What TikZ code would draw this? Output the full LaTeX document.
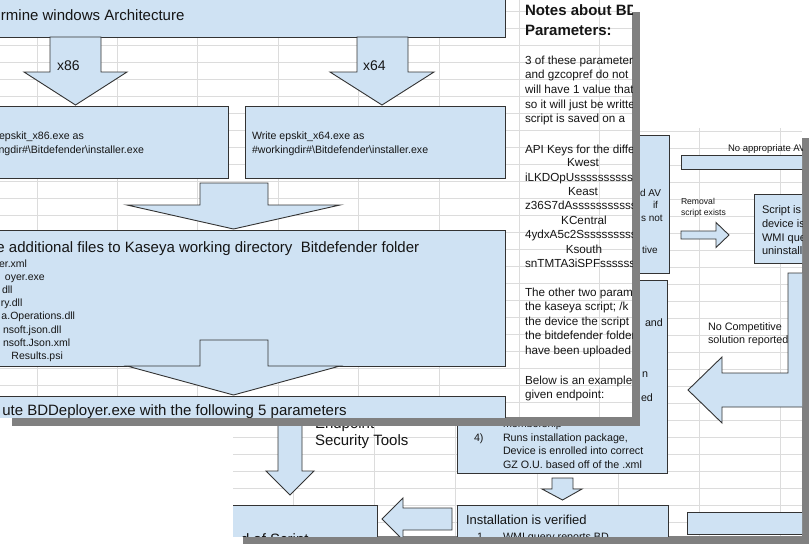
\documentclass[tikz,border=0pt]{standalone}
\usepackage{fontspec}
\setmainfont{Liberation Sans}
\definecolor{boxblue}{HTML}{CFE2F3}
\definecolor{edgegray}{HTML}{333333}
\definecolor{gridgray}{HTML}{DCDCDC}
\definecolor{shadowgray}{HTML}{808080}
\definecolor{ink}{HTML}{151515}
\newcommand\fsz[1]{\fontsize{#1}{#1}\selectfont}
\begin{document}
\begin{tikzpicture}[x=1pt,y=-1pt,
  box/.style={fill=boxblue,draw=edgegray,line width=0.9},
  blockarrow/.style={fill=boxblue,draw=edgegray,line width=0.9,line join=miter},
  gridline/.style={draw=gridgray,line width=0.7},
  txt/.style={anchor=base west,inner sep=0,outer sep=0,text=ink},
  ctxt/.style={anchor=base,inner sep=0,outer sep=0,text=ink}]
\useasboundingbox (0,0) rectangle (812,544);
\fill[white] (0,0) rectangle (812,544);

% ---------- back page (B) ----------
\fill[shadowgray] (243,138) rectangle (809,550);
\begin{scope}
\clip (233,128) rectangle (802,536);
\fill[white] (233,128) rectangle (802,536);
\foreach \gx in {293,374.3,455.6,536.9,618.2,699.5,780.8} \draw[gridline] (\gx,128) -- (\gx,536);
\foreach \k in {0,...,23} \draw[gridline] (233,131+17*\k) -- (802,131+17*\k);
% boxes
\draw[box] (560,135) rectangle (669,273);
\draw[box] (457,280) rectangle (667,473);
\draw[box] (457,505) rectangle (668,570);
\draw[box] (200,505) rectangle (377,570);
\draw[box] (687,512) rectangle (850,534.5);
\draw[box] (681,155) rectangle (850,169);
\draw[box] (754,194) rectangle (850,263);
% block arrows
\draw[blockarrow] (552,478) -- (573,478) -- (573,489) -- (582,489) -- (562.5,500) -- (542,489) -- (552,489) -- cycle;
\draw[blockarrow] (452,508) -- (403,508) -- (403,498) -- (382,519) -- (403,540) -- (403,530) -- (452,530) -- cycle;
\draw[blockarrow] (278,400) -- (278,471) -- (266,471) -- (290,495) -- (314,471) -- (302,471) -- (302,400) -- cycle;
\draw[blockarrow] (681,231) -- (716,231) -- (716,222.5) -- (729,235) -- (716,247.5) -- (716,239) -- (681,239) -- cycle;
\draw[blockarrow] (788,273) -- (840,273) -- (840,407) -- (722,407) -- (722,423) -- (688,390) -- (722,357) -- (722,373) -- (788,373) -- cycle;
% texts
\node[txt,font=\fsz{10}] (bav) at (640,196.5) {d AV};
\node[txt,font=\fsz{10}] (bif) at (653,208.5) {if};
\node[txt,font=\fsz{10}] (bnot) at (641,221.5) {s not};
\node[txt,font=\fsz{10}] (btive) at (642,253.5) {tive};
\node[txt,font=\fsz{10.7}] (band) at (645,326) {and};
\node[txt,font=\fsz{10.7}] (bn) at (642,377) {n};
\node[txt,font=\fsz{10.7}] (bed) at (641,401) {ed};
\node[txt,font=\fsz{10.7}] (bmem) at (503,427.5) {membership};
\node[txt,font=\fsz{10.7}] (bfour) at (474,441) {4)};
\node[txt,font=\fsz{10.7}] (bruns) at (503,441) {Runs installation package,};
\node[txt,font=\fsz{10.7}] (bdev) at (503,454.5) {Device is enrolled into correct};
\node[txt,font=\fsz{10.7}] (bgz) at (503,468) {GZ O.U. based off of the .xml};
\node[txt,font=\fsz{15}] (bend) at (315,428) {Endpoint};
\node[txt,font=\fsz{15}] (bsec) at (315,445.5) {Security Tools};
\node[txt,font=\fsz{13}] (binst) at (466,524.5) {Installation is verified};
\node[txt,font=\fsz{10.7}] (bone) at (477,540.5) {1};
\node[txt,font=\fsz{10.7}] (bwmi) at (503,540.5) {WMI query reports BD};
\node[txt,font=\fsz{15}] (bscr) at (241,544.5) {d of Script};
\node[txt,font=\fsz{10.8}] (bnoc) at (708,330) {No Competitive};
\node[txt,font=\fsz{10.8}] (bsol) at (708,343) {solution reported};
\node[txt,font=\fsz{11}] (bs1) at (762,213) {Script is};
\node[txt,font=\fsz{11}] (bs2) at (762,227) {device is};
\node[txt,font=\fsz{11}] (bs3) at (762,241) {WMI query};
\node[txt,font=\fsz{11}] (bs4) at (762,254.5) {uninstall};
\node[txt,font=\fsz{8.6}] (brem) at (681,204) {Removal};
\node[txt,font=\fsz{8.6}] (bexi) at (681,215) {script exists};
\node[txt,font=\fsz{9.5}] (bnoa) at (728,151) {No appropriate AV};
\end{scope}

% ---------- front page (A) ----------
\fill[shadowgray] (12,12) rectangle (640,426);
\begin{scope}
\clip (-10,-10) rectangle (632,417);
\fill[white] (-10,-10) rectangle (632,417);
\foreach \gx in {37,117.4,197.8,278.2,358.6,439,519.4,599.8} \draw[gridline] (\gx,-10) -- (\gx,417);
\foreach \k in {0,...,23} \draw[gridline] (-10,11+17*\k) -- (632,11+17*\k);
% boxes and arrows
\draw[box] (-5,-5) rectangle (505,37);
\draw[blockarrow] (50,37) -- (50,72) -- (24,72) -- (75.5,105) -- (127,72) -- (101,72) -- (101,37) -- cycle;
\draw[blockarrow] (357,37) -- (357,72) -- (330,72) -- (382,105) -- (434,72) -- (408,72) -- (408,37) -- cycle;
\draw[box] (-5,106) rectangle (228,178);
\draw[box] (245,106) rectangle (505,178);
\draw[blockarrow] (200,183) -- (200,205) -- (127,205) -- (233.5,229) -- (340,205) -- (268,205) -- (268,183) -- cycle;
\draw[box] (-5,230) rectangle (505,366);
\draw[blockarrow] (200,340) -- (200,366) -- (127,366) -- (233.5,395) -- (340,366) -- (268,366) -- (268,340) -- cycle;
\draw[box] (-5,396) rectangle (505,440);
% texts
\node[txt,font=\fsz{15}] (a1) at (1,20.4) {rmine windows Architecture};
\node[txt,font=\fsz{14}] (ax86) at (57,70) {x86};
\node[txt,font=\fsz{14}] (ax64) at (363,70) {x64};
\node[txt,font=\fsz{10.6}] (al1) at (-1,139) {epskit\_x86.exe as};
\node[txt,font=\fsz{10.6}] (al2) at (-1.5,153) {ngdir\#\textbackslash Bitdefender\textbackslash installer.exe};
\node[txt,font=\fsz{10.6}] (ar1) at (252,139) {Write epskit\_x64.exe as};
\node[txt,font=\fsz{10.6}] (ar2) at (252,153) {\#workingdir\#\textbackslash Bitdefender\textbackslash installer.exe};
\node[txt,font=\fsz{15}] (a3) at (-3.5,252) {e additional files to Kaseya working directory\ \ Bitdefender folder};
\node[txt,font=\fsz{10.5}] (f1) at (-1,267) {er.xml};
\node[txt,font=\fsz{10.5}] (f2) at (5,280.2) {oyer.exe};
\node[txt,font=\fsz{10.5}] (f3) at (2,293.4) {dll};
\node[txt,font=\fsz{10.5}] (f4) at (1,306.6) {ry.dll};
\node[txt,font=\fsz{10.5}] (f5) at (1.5,319.8) {a.Operations.dll};
\node[txt,font=\fsz{10.5}] (f6) at (3,333) {nsoft.json.dll};
\node[txt,font=\fsz{10.5}] (f7) at (3,346.2) {nsoft.Json.xml};
\node[txt,font=\fsz{10.5}] (f8) at (11.5,359.4) {Results.psi};
\node[txt,font=\fsz{15}] (a4) at (2.3,415) {ute BDDeployer.exe with the following 5 parameters};
% notes
\node[txt,font=\bfseries\fsz{15}] (nh1) at (525,15.5) {Notes about BD};
\node[txt,font=\bfseries\fsz{15}] (nh2) at (525,35.5) {Parameters:};
\node[txt,font=\fsz{11.7}] (n1) at (525,64) {3 of these parameters};
\node[txt,font=\fsz{11.7}] (n2) at (525,78.7) {and gzcopref do not};
\node[txt,font=\fsz{11.7}] (n3) at (525,93.4) {will have 1 value that};
\node[txt,font=\fsz{11.7}] (n4) at (525,108.1) {so it will just be written};
\node[txt,font=\fsz{11.7}] (n5) at (525,122.8) {script is saved on a};
\node[txt,font=\fsz{11.7}] (n6) at (525,153) {API Keys for the different};
\node[ctxt,font=\fsz{11.7}] (k1) at (583,166.5) {Kwest};
\node[txt,font=\fsz{11.7}] (k1v) at (525,181) {iLKDOpUssssssssssssss};
\node[ctxt,font=\fsz{11.7}] (k2) at (583,195.5) {Keast};
\node[txt,font=\fsz{11.7}] (k2v) at (525,209.5) {z36S7dAsssssssssssss};
\node[ctxt,font=\fsz{11.7}] (k3) at (584,224) {KCentral};
\node[txt,font=\fsz{11.7}] (k3v) at (525,238.5) {4ydxA5c2Sssssssssssss};
\node[ctxt,font=\fsz{11.7}] (k4) at (584,253) {Ksouth};
\node[txt,font=\fsz{11.7}] (k4v) at (525,267.5) {snTMTA3iSPFssssssss};
\node[txt,font=\fsz{11.7}] (n7) at (525,296) {The other two parameters};
\node[txt,font=\fsz{11.7}] (n8) at (525,310.5) {the kaseya script; /k};
\node[txt,font=\fsz{11.7}] (n9) at (525,325) {the device the script};
\node[txt,font=\fsz{11.7}] (n10) at (525,339.5) {the bitdefender folder};
\node[txt,font=\fsz{11.7}] (n11) at (525,354) {have been uploaded};
\node[txt,font=\fsz{11.7}] (n12) at (525,384) {Below is an example};
\node[txt,font=\fsz{11.7}] (n13) at (525,398.5) {given endpoint:};
\end{scope}
\end{tikzpicture}
\end{document}
